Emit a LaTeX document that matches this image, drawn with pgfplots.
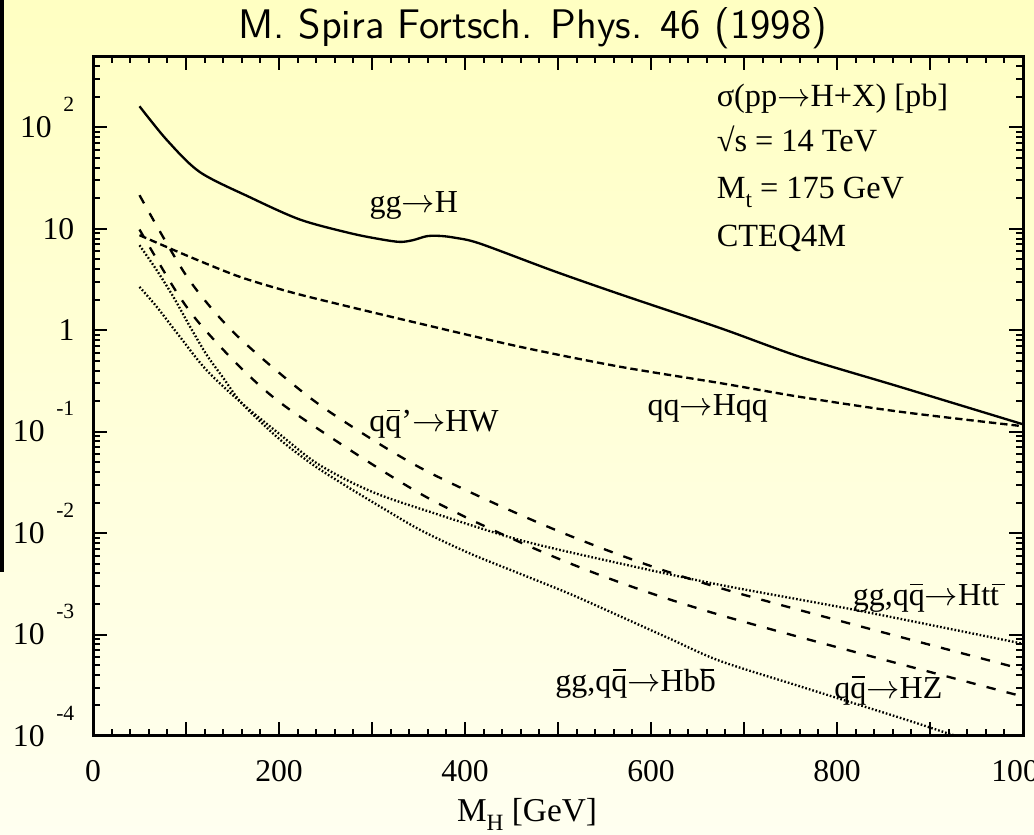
\documentclass[border=0pt]{standalone}
\usepackage{fontspec}
\setmainfont{Liberation Serif}
\usepackage{pgfplots}
\pgfplotsset{compat=1.18}
\definecolor{bgtop}{RGB}{255,255,194}
\definecolor{bgbot}{RGB}{255,255,240}
\newcommand\ob[1]{\leavevmode\rlap{\hspace{0.05em}\raisebox{0.64em}{\rule{0.4em}{0.045em}}}#1}
\newcommand\qb{\ob{q}}
\newcommand\tb{\ob{t}}
\newcommand\bb{\ob{b}}
\newcommand\ra{$\rightarrow$}
\newcommand\ex[1]{10\hspace{3.5pt}\smash{\raisebox{7.8pt}{\fontsize{6.5}{7}\selectfont #1}}}
\begin{document}
\begin{tikzpicture}
\useasboundingbox (0,0) rectangle (310.2pt,250.5pt);
\shade[top color=bgtop, bottom color=bgbot] (0,0) rectangle (310.2pt,250.5pt);
\fill[black] (0,78.9pt) rectangle (1.3pt,250.5pt);
\begin{axis}[
  at={(27.9pt,29.7pt)}, anchor=south west, scale only axis,
  width=279pt, height=203.9pt,
  xmin=0, xmax=1000, ymode=log, ymin=1e-4, ymax=500,
  xtick={0,100,...,1000},
  xticklabels={0,,200,,400,,600,,800,,1000},
  minor x tick num=4,
  ytick={1e-4,1e-3,1e-2,1e-1,1,10,100},
  yticklabels={\ex{-4},\ex{-3},\ex{-2},\ex{-1},1\hspace{6.6pt},10\hspace{6.6pt},\ex{2}},
  minor ytick={2e-4,3e-4,4e-4,5e-4,6e-4,7e-4,8e-4,9e-4,
               2e-3,3e-3,4e-3,5e-3,6e-3,7e-3,8e-3,9e-3,
               2e-2,3e-2,4e-2,5e-2,6e-2,7e-2,8e-2,9e-2,
               0.2,0.3,0.4,0.5,0.6,0.7,0.8,0.9,
               2,3,4,5,6,7,8,9,
               20,30,40,50,60,70,80,90,200,300,400},
  tick align=inside, major tick length=4.2pt, minor tick length=2.1pt,
  tick style={black, line width=0.6pt},
  axis line style={line width=0.9pt},
  xticklabel style={font=\fontsize{9.5}{11}\selectfont, inner sep=0pt, yshift=-7.2pt},
  yticklabel style={font=\fontsize{9.5}{11}\selectfont, inner sep=0pt, xshift=-5.4pt},
  title={M. Spira Fortsch. Phys. 46 (1998)},
  title style={at={(axis description cs:0.473,1)}, anchor=base, yshift=-0.8pt, inner sep=0pt, font=\fontsize{12.4}{14}\selectfont\sffamily},
  xlabel={M\raisebox{-2.6pt}{\fontsize{7}{8}\selectfont H} [GeV]},
  xlabel style={at={(axis description cs:0.4667,0)}, anchor=base, yshift=-25.8pt, inner sep=0pt, font=\fontsize{10}{12}\selectfont},
]
% gg -> H
\addplot[black, line width=0.7pt, smooth] coordinates {
(50,161) (79.6,74.5) (115,36.1) (168.8,20.4) (222.6,12.3) (276.4,9.04) (308.6,7.89)
(330,7.41) (344,7.71) (359,8.44) (373,8.49) (389,8.15) (416,7.14) (494.6,3.85)
(566.7,2.26) (674.2,1.05) (760.2,0.546) (867.7,0.276) (996.8,0.1205) (1000,0.118)};
% qq -> Hqq
\addplot[black, line width=0.7pt, smooth, dash pattern=on 2.2pt off 1.2pt] coordinates {
(50,8.63) (104.3,5.27) (158,3.35) (211.8,2.38) (265.6,1.79) (351.6,1.16) (459,0.686)
(566.7,0.436) (674.2,0.301) (760.2,0.220) (867.7,0.157) (1000,0.113)};
% qq' -> HW
\addplot[black, line width=0.7pt, smooth, dash pattern=on 2.8pt off 3.4pt] coordinates {
(50,21.4) (100.7,3.40) (147,1.04) (201,0.374) (257,0.151) (359,0.0407) (511,9.55e-3)
(670,2.95e-3) (989,4.82e-4) (1000,4.57e-4)};
% qq -> HZ
\addplot[black, line width=0.7pt, smooth, dash pattern=on 2.8pt off 3.4pt] coordinates {
(50,9.82) (89,2.44) (117,1.094) (167,0.3606) (220,0.1455) (361,0.02198) (513,5.02e-3)
(671,1.59e-3) (980,2.735e-4) (1000,2.51e-4)};
% gg,qq -> Htt
\addplot[black, line width=0.7pt, smooth, dash pattern=on 0.5pt off 0.6pt] coordinates {
(50,2.67) (68.5,1.70) (93.5,0.859) (122,0.404) (160,0.1905) (200,0.0955) (237,0.0513)
(273,0.0333) (309,0.02366) (362,0.01622) (459,8.53e-3) (567,5.01e-3) (674,3.09e-3)
(821,1.738e-3) (989,8.51e-4) (1000,8.13e-4)};
% gg,qq -> Hbb
\addplot[black, line width=0.7pt, smooth, dash pattern=on 0.5pt off 0.6pt] coordinates {
(50,6.87) (68.5,3.90) (86.4,2.13) (104,1.096) (122,0.575) (140,0.339) (160,0.1905)
(200,0.0851) (237,0.0468) (273,0.0288) (309,0.0182) (352,0.01072) (405,6.31e-3)
(459,3.98e-3) (513,2.51e-3) (567,1.51e-3) (620,9.12e-4) (674,5.50e-4) (760,3.09e-4)
(868,1.51e-4) (918,1.07e-4) (960,8.13e-5)};
% labels
\begin{scope}[every node/.style={inner sep=0pt, font=\fontsize{9.7}{12}\selectfont}]
\node[anchor=base west] at (axis cs:670,159) {σ(pp\ra H+X) [pb]};
\node[anchor=base west] at (axis cs:670,57.3) {√s = 14 TeV};
\node[anchor=base west] at (axis cs:670,19.95) {M\raisebox{-2.8pt}{\fontsize{7}{8}\selectfont t} = 175 GeV};
\node[anchor=base west] at (axis cs:670,6.71) {CTEQ4M};
\end{scope}
\begin{scope}[every node/.style={inner sep=0pt, font=\fontsize{9.6}{11}\selectfont}]
\node at (axis cs:345,17) {gg\ra H};
\node at (axis cs:366.7,0.1186) {q\qb'\ra HW};
\node at (axis cs:661,0.1706) {qq\ra Hqq};
\node at (axis cs:895.7,0.00229) {gg,q\qb\ra Ht\tb};
\node at (axis cs:583.4,3.29e-4) {gg,q\qb\ra Hb\bb};
\node at (axis cs:855.2,2.79e-4) {q\qb\ra HZ};
\end{scope}
\end{axis}
\end{tikzpicture}
\end{document}
